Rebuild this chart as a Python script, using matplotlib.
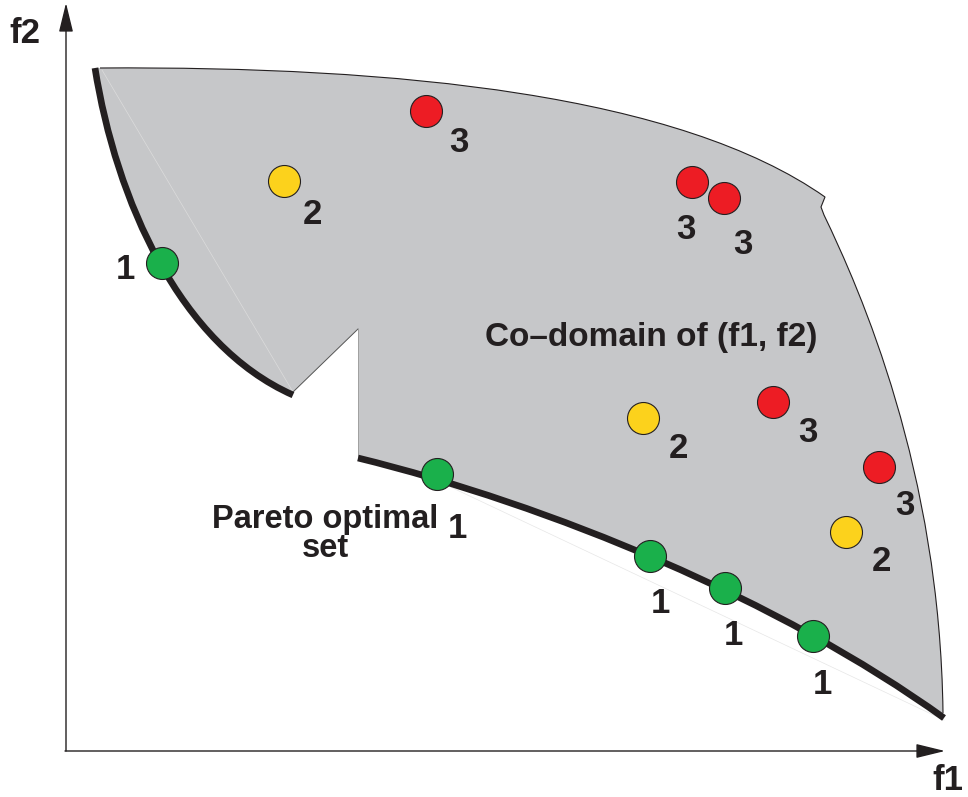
import matplotlib.pyplot as plt
from matplotlib import font_manager
from matplotlib.path import Path
from matplotlib.patches import PathPatch

plt.rcParams['font.family'] = ['Liberation Sans', 'DejaVu Sans']

# condensed face for the labels inside the region, if it is there
installed = {f.name for f in font_manager.fontManager.ttflist}
if 'Liberation Sans Narrow' in installed:
    narrow, num_size, dom_size = ['Liberation Sans Narrow', 'DejaVu Sans'], 27, 28
else:
    narrow, num_size, dom_size = ['Liberation Sans', 'DejaVu Sans'], 25, 24

# everything is in picture coordinates (x right, y down)
# rank-1 points (on the Pareto front)
green_x = [162, 437, 650, 725, 813]
green_y = [263, 474, 556, 588, 636]
green_lx = [125, 457, 660, 733, 822]
green_ly = [266, 525, 600, 632, 681]

# rank-2 points
yellow_x = [284, 643, 846]
yellow_y = [181, 418, 532]
yellow_lx = [312, 678, 881]
yellow_ly = [211, 445, 558]

# rank-3 points
red_x = [426, 692, 724, 773, 879]
red_y = [111, 182, 198, 402, 467]
red_lx = [459, 686, 743, 808, 905]
red_ly = [139, 226, 241, 429, 502]

# control points of the region borders (cubic Bezier)
top_edge = [(100, 68), (400, 66), (680, 95), (825, 197)]
notch_bump = [(821, 207), (824, 215)]
right_edge = [(824, 215), (860, 290), (940, 470), (943, 713)]
front_low = [(358, 458), (550, 505), (780, 600), (944, 718)]
front_left = [(95, 68), (116, 200), (180, 345), (293, 395)]
gap = [(358, 329), (293, 392)]

ink = '#231f20'
C4 = Path.CURVE4
L = Path.LINETO

fig = plt.figure(figsize=(9.68, 7.97), dpi=100)
ax = fig.add_axes([0, 0, 1, 1])
ax.set_xlim(0, 968)
ax.set_ylim(797, 0)
ax.axis('off')

# gray co-domain
verts = [top_edge[0]] + top_edge[1:] + notch_bump + right_edge[1:] \
    + [front_low[3], front_low[2], front_low[1], front_low[0]] \
    + gap + [front_left[2], front_left[1], front_left[0]] + [top_edge[0]]
codes = [Path.MOVETO] + [C4] * 3 + [L] * 2 + [C4] * 3 + [L] + [C4] * 3 \
    + [L] * 2 + [C4] * 3 + [Path.CLOSEPOLY]
ax.add_patch(PathPatch(Path(verts, codes), facecolor='#c6c7c9', edgecolor='none', zorder=1))

# thin outlines
outline = top_edge + notch_bump + right_edge[1:]
ax.add_patch(PathPatch(Path(outline, [Path.MOVETO] + [C4] * 3 + [L] * 2 + [C4] * 3),
                       facecolor='none', edgecolor=ink, lw=0.8, zorder=2))
ax.plot([gap[0][0], gap[1][0]], [gap[0][1], gap[1][1]], color='#555555', lw=0.7, zorder=2)
ax.plot([358, 358], [329, 458], color='#a0a0a0', lw=0.7, zorder=2)
# faint chords
ax.plot([102, 293], [70, 392], color='#dcdcdc', lw=0.5, zorder=2)
ax.plot([440, 944], [482, 720], color='#e6e6e6', lw=0.5, zorder=0)

# Pareto fronts
for pts in (front_left, front_low):
    ax.add_patch(PathPatch(Path(pts, [Path.MOVETO] + [C4] * 3), facecolor='none',
                           edgecolor=ink, lw=4.8, capstyle='butt', zorder=3))

# axes with arrows
ax.annotate('', xy=(66, 3), xytext=(66, 751),
            arrowprops=dict(arrowstyle='-|>,head_length=0.9,head_width=0.22',
                            lw=1.0, color=ink, mutation_scale=20, shrinkA=0, shrinkB=0))
ax.annotate('', xy=(945, 751), xytext=(65, 751),
            arrowprops=dict(arrowstyle='-|>,head_length=0.9,head_width=0.22',
                            lw=1.0, color=ink, mutation_scale=20, shrinkA=0, shrinkB=0))
ax.text(25, 43, 'f2', fontsize=25, fontweight='bold', color=ink, ha='center', va='baseline')
ax.text(948, 790, 'f1', fontsize=25, fontweight='bold', color=ink, ha='center', va='baseline')

# points and their ranks
for xs, ys, lx, ly, col, rank in [
        (green_x, green_y, green_lx, green_ly, '#1ab04b', '1'),
        (yellow_x, yellow_y, yellow_lx, yellow_ly, '#fcd21c', '2'),
        (red_x, red_y, red_lx, red_ly, '#ed1c24', '3')]:
    ax.scatter(xs, ys, s=530, color=col, edgecolor=ink, linewidth=0.8, zorder=4)
    for x, y in zip(lx, ly):
        ax.text(x, y + 13, rank, fontsize=num_size, fontweight='bold', color=ink,
                family=narrow, ha='center', va='baseline', zorder=5)

ax.text(651, 346, 'Co\u2013domain of (f1, f2)', fontsize=dom_size, fontweight='bold',
        family=narrow, color=ink, ha='center', va='baseline', zorder=5)
ax.text(325, 557, 'Pareto optimal\nset', fontsize=23.5, fontweight='bold', color=ink,
        ha='center', va='baseline', linespacing=0.9, zorder=5)

fig.savefig('out.png', dpi=100)
